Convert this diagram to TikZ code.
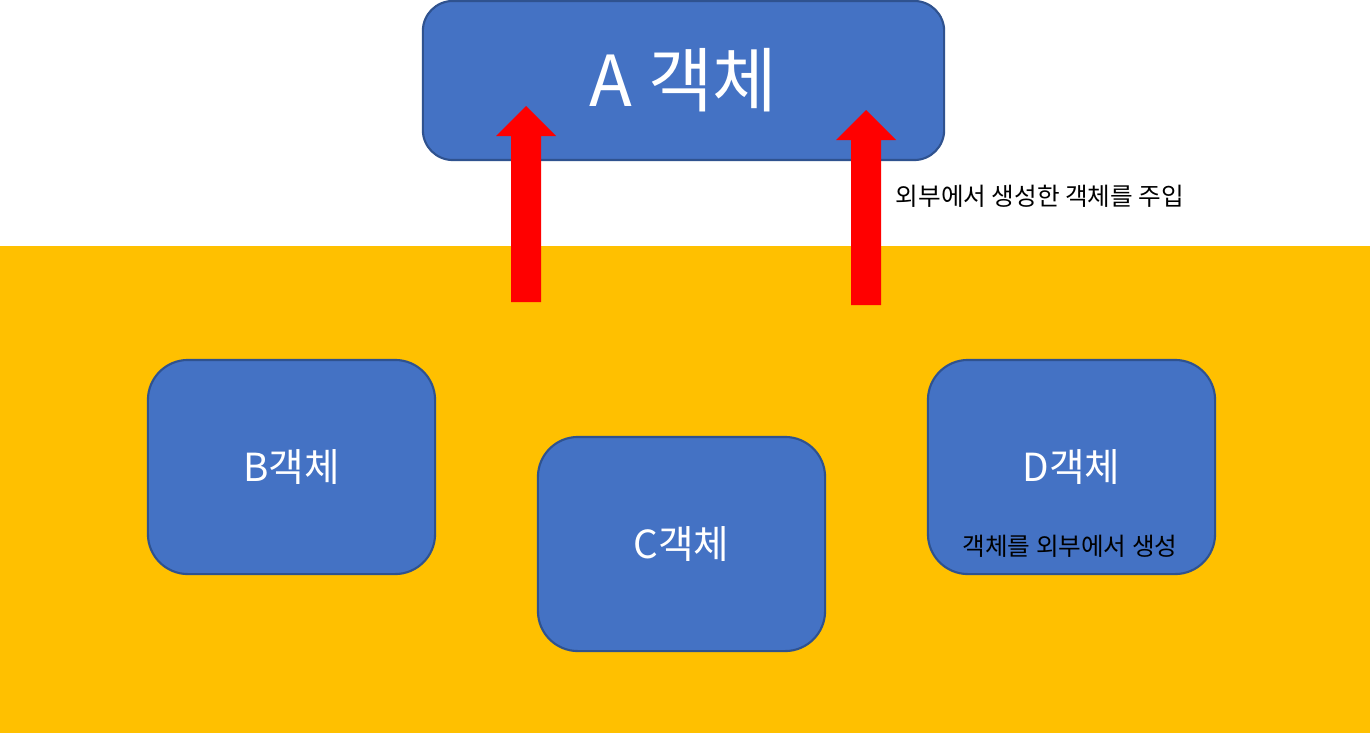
\documentclass[tikz,border=0pt]{standalone}
\usepackage{fontspec}
\setmainfont{Noto Sans CJK KR}
\definecolor{objblue}{HTML}{4472C4}
\definecolor{objline}{HTML}{2F528F}
\definecolor{outside}{HTML}{FFC000}
\tikzset{
  objbox/.style={draw=objline,line width=0.6pt,fill=objblue,text=white,rounded corners=0.4cm,
    minimum width=2.87cm,minimum height=2.14cm,font=\fontsize{11pt}{13pt}\selectfont},
  note/.style={text=black,font=\fontsize{7pt}{9pt}\selectfont,inner sep=0pt}
}
\begin{document}
\begin{tikzpicture}[x=0.01cm,y=-0.01cm]
                \useasboundingbox (0,0) rectangle (1370,733);
                \fill[white] (0,0) rectangle (1370,733);
                \fill[outside] (0,246) rectangle (1370,733);
                \node[objbox,minimum width=5.21cm,minimum height=1.59cm,rounded corners=0.3cm,
                  font=\fontsize{20pt}{24pt}\selectfont] (a) at (683.5,80.5) {A 객체};
                \node[objbox] (b) at (291.5,467) {B객체};
                \node[objbox] (c) at (681.5,544) {C객체};
                \node[objbox] (d) at (1071.5,467) {D객체};
                \node[note] (dnote) at (1070,546) {객체를 외부에서 생성};
                \node[note,anchor=west] (inject) at (895,196) {외부에서 생성한 객체를 주입};
                \fill[red] (511,302)--(511,136)--(496,136)--(526,106)--(556,136)--(541,136)--(541,302)--cycle;
                \fill[red] (851,305)--(851,140)--(836,140)--(866,110)--(896,140)--(881,140)--(881,305)--cycle;
            \end{tikzpicture}
\end{document}
